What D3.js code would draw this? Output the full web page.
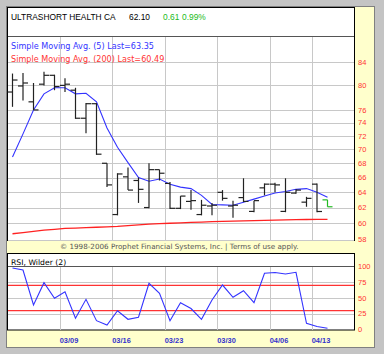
<!DOCTYPE html>
<html>
<head>
<meta charset="utf-8">
<script src="https://cdn.jsdelivr.net/npm/d3@7"></script>
<style>
body { margin: 0; background: #fff; }
svg { display: block; }
text { font-family: "DejaVu Sans", Verdana, sans-serif; }
.arial { font-family: "Liberation Sans", Arial, sans-serif; }
</style>
</head>
<body>
<div id="chart"></div>
<script>
// daily bars, 31 trading days
var opens  = [78.9,79.9,77.3,80.2,81.7,80.0,79.2,74.7,77.0,68.0,61.1,66.1,65.6,62.0,67.1,65.2,61.9,62.8,61.1,62.2,64.0,62.2,63.3,61.5,64.6,65.1,61.5,63.9,62.7,65.1,63.0];
var highs  = [82.0,82.1,80.4,82.3,81.8,81.2,79.6,77.1,77.1,68.0,66.6,67.4,66.0,68.0,67.1,65.4,63.5,64.3,63.0,62.6,64.3,62.9,65.9,62.9,65.2,65.3,65.9,64.4,63.4,65.2,63.0];
var lows   = [76.5,77.5,76.0,80.0,79.2,78.9,74.6,72.4,69.2,64.7,61.0,64.3,62.6,61.9,65.6,61.8,61.8,61.7,61.0,61.0,62.9,60.7,62.7,61.4,63.6,64.0,61.4,63.8,62.1,61.4,62.1];
var closes = [80.9,80.4,76.0,81.7,79.8,80.2,74.7,77.0,69.3,65.0,66.5,64.3,64.4,67.1,66.6,61.9,63.5,62.9,62.3,62.3,63.2,62.3,62.8,62.9,65.1,65.0,64.0,64.3,63.2,61.49,62.10];

var ma5   = [68.9,72.3,76.0,78.6,79.6,79.6,78.6,78.7,77.3,73.2,70.3,68.1,66.0,65.5,65.8,65.1,64.7,64.5,63.6,62.4,62.35,62.3,62.7,63.1,63.5,63.9,64.1,64.4,64.5,64.0,63.35];
var ma200 = [58.7,58.85,59.0,59.15,59.25,59.35,59.4,59.45,59.5,59.55,59.6,59.7,59.8,59.9,59.95,60.0,60.05,60.1,60.15,60.2,60.23,60.27,60.3,60.33,60.37,60.4,60.43,60.45,60.47,60.48,60.49];
var rsi   = [97.6,94.4,38.9,74.3,49.5,60,17.8,47.9,14.0,7.1,29.8,16.2,19.4,73.3,57.5,14.0,42.5,33.3,16.2,46.8,70.6,51.1,61.6,42.5,89.2,90.5,88.1,90.8,9.8,4.8,1.9];

var price_ticks = [84,80,76,74,72,70,68,66,64,62,60,58];
var rsi_ticks = [100,75,50,25,0];
var rsi_bands = [70,30];
var week_pos = [4.5,9.5,14.5,19.5,24.5,28.5];
var week_labels = ['03/09','03/16','03/23','03/30','04/06','04/13'];

var svg = d3.select("#chart").append("svg").attr("width", 384).attr("height", 354);

// frame
svg.append("rect").attr("x",0).attr("y",0).attr("width",384).attr("height",354).attr("fill","#c4c4c4");
svg.append("rect").attr("x",6.5).attr("y",6.5).attr("width",368).attr("height",341).attr("fill","#ffffcc").attr("stroke","#808080");

var x = d3.scaleLinear().domain([0,30]).range([12.5,327.5]);
var y = d3.scaleLog().domain([58,84]).range([239.5,62]);
var yr = d3.scaleLinear().domain([0,100]).range([329.5,266.5]);

// price panel
svg.append("rect").attr("x",7.5).attr("y",7.5).attr("width",347).attr("height",233).attr("fill","#fff").attr("stroke","#000");

svg.selectAll(".hgrid").data(price_ticks).enter().append("line").attr("class","hgrid")
  .attr("x1",8).attr("x2",354).attr("y1",d => Math.round(y(d))+0.5).attr("y2",d => Math.round(y(d))+0.5)
  .attr("stroke","#c8c8c8");
svg.selectAll(".vgrid").data(week_pos).enter().append("line").attr("class","vgrid")
  .attr("x1",d => Math.round(x(d))+0.5).attr("x2",d => Math.round(x(d))+0.5).attr("y1",37).attr("y2",240)
  .attr("stroke","#c8c8c8");
svg.append("line").attr("x1",8).attr("x2",354).attr("y1",36.5).attr("y2",36.5).attr("stroke","#555");

svg.selectAll(".plab").data(price_ticks).enter().append("text").attr("class","plab arial")
  .attr("x",358).attr("y",d => y(d)).attr("dy","0.35em").attr("fill","#ff3333").style("font-size","7.5px").text(d => d);

// title
svg.append("text").attr("class","arial").attr("x",11).attr("y",20).style("font-size","8.4px").attr("fill","#000").text("ULTRASHORT HEALTH CA");
svg.append("text").attr("class","arial").attr("x",129).attr("y",20).style("font-size","8.4px").attr("fill","#000").text("62.10");
svg.append("text").attr("class","arial").attr("x",163).attr("y",20).style("font-size","8.4px").attr("fill","#22bb22").text("0.61");
svg.append("text").attr("class","arial").attr("x",182).attr("y",20).style("font-size","8.4px").attr("fill","#22bb22").text("0.99%");
svg.append("text").attr("x",11).attr("y",49).style("font-size","8.1px").attr("fill","#3333ff").text("Simple Moving Avg. (5) Last=63.35");
svg.append("text").attr("x",11).attr("y",61.5).style("font-size","8.1px").attr("fill","#ff3333").text("Simple Moving Avg. (200) Last=60.49");

// moving averages
var idx = d3.range(opens.length);
svg.append("path").datum(idx).attr("fill","none").attr("stroke","#ff2222").attr("stroke-width",1.3)
  .attr("d", d3.line().x(i => x(i)).y(i => y(ma200[i])));
svg.append("path").datum(idx).attr("fill","none").attr("stroke","#3333ff").attr("stroke-width",1.1)
  .attr("d", d3.line().x(i => x(i)).y(i => y(ma5[i])));

// OHLC bars
var bars = svg.selectAll(".bar").data(idx).enter().append("g").attr("class","bar")
  .attr("stroke", i => i == idx.length-1 ? "#22bb22" : "#222").attr("stroke-width",1.2);
bars.append("line").attr("x1",i => x(i)).attr("x2",i => x(i)).attr("y1",i => y(highs[i])).attr("y2",i => y(lows[i]));
bars.append("line").attr("x1",i => x(i)-5).attr("x2",i => x(i)).attr("y1",i => y(opens[i])).attr("y2",i => y(opens[i]));
bars.append("line").attr("x1",i => x(i)).attr("x2",i => x(i)+5).attr("y1",i => y(closes[i])).attr("y2",i => y(closes[i]));

svg.append("text").attr("x",60).attr("y",248.5).style("font-size","7.2px").attr("fill","#555")
  .text("\u00a9 1998-2006 Prophet Financial Systems, Inc. | Terms of use apply.");

// RSI panel
svg.append("rect").attr("x",7.5).attr("y",253.5).attr("width",347).attr("height",76.5).attr("fill","#fff").attr("stroke","#000");
svg.append("text").attr("x",11).attr("y",264.5).style("font-size","7.7px").attr("fill","#000").text("RSI, Wilder (2)");
svg.selectAll(".rgrid").data(rsi_ticks.slice(1,4)).enter().append("line").attr("class","rgrid")
  .attr("x1",8).attr("x2",354).attr("y1",d => Math.round(yr(d))+0.5).attr("y2",d => Math.round(yr(d))+0.5).attr("stroke","#c8c8c8");
svg.selectAll(".rvgrid").data(week_pos).enter().append("line").attr("class","rvgrid")
  .attr("x1",d => Math.round(x(d))+0.5).attr("x2",d => Math.round(x(d))+0.5).attr("y1",267).attr("y2",330).attr("stroke","#c8c8c8");
svg.append("line").attr("x1",8).attr("x2",354).attr("y1",266.5).attr("y2",266.5).attr("stroke","#555");
svg.selectAll(".band").data(rsi_bands).enter().append("line").attr("class","band")
  .attr("x1",8).attr("x2",354).attr("y1",d => yr(d)).attr("y2",d => yr(d)).attr("stroke","#ff3333").attr("stroke-width",1.2);
svg.append("path").datum(idx).attr("fill","none").attr("stroke","#3333ff").attr("stroke-width",1.1)
  .attr("d", d3.line().x(i => x(i)).y(i => yr(rsi[i])));
svg.selectAll(".rlab").data(rsi_ticks).enter().append("text").attr("class","rlab arial")
  .attr("x",358).attr("y",d => yr(d)).attr("dy","0.35em").attr("fill","#ff3333").style("font-size","7.5px").text(d => d);

svg.selectAll(".dlab").data(week_pos).enter().append("text").attr("class","dlab arial")
  .attr("x",d => x(d)).attr("y",342.5).attr("fill","#3333cc").style("font-size","7.4px").style("font-weight","bold")
  .text((d,i) => week_labels[i]);
</script>
</body>
</html>
